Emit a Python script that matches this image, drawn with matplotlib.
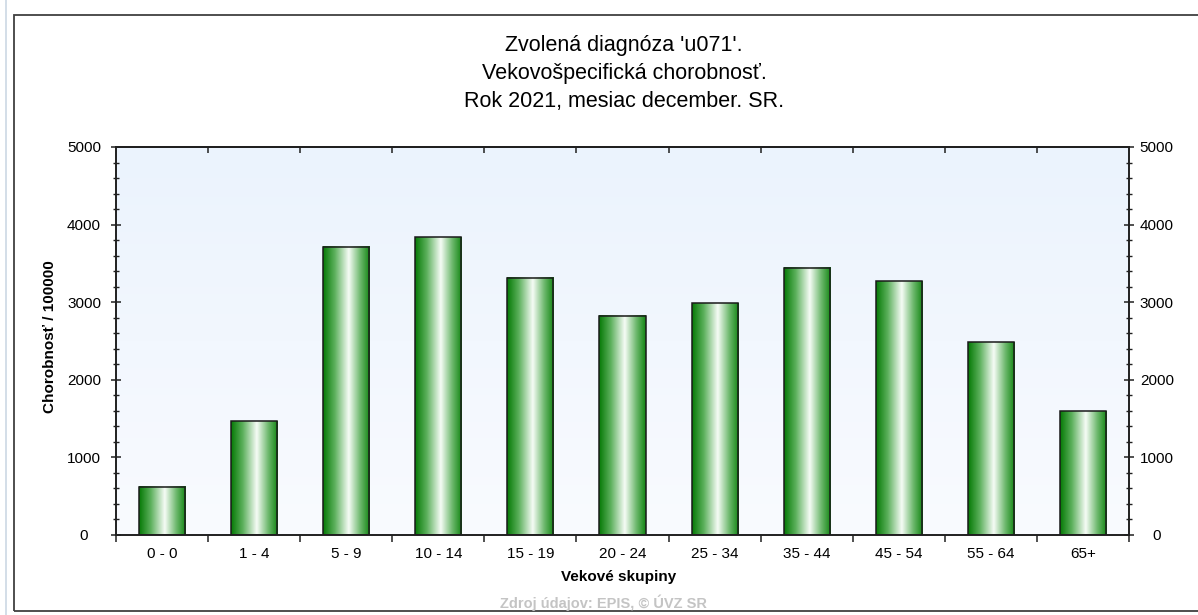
import numpy as np
import matplotlib.pyplot as plt
from matplotlib.colors import LinearSegmentedColormap
from matplotlib.patches import Rectangle
from matplotlib.lines import Line2D

plt.rcParams['font.family'] = ['Liberation Sans', 'DejaVu Sans']

# data
groups = ["0 - 0", "1 - 4", "5 - 9", "10 - 14", "15 - 19", "20 - 24",
          "25 - 34", "35 - 44", "45 - 54", "55 - 64", "65+"]
values = [620, 1465, 3715, 3834, 3312, 2828, 2986, 3445, 3268, 2485, 1594]

title_lines = ["Zvolená diagnóza 'u071'.",
               "Vekovošpecifická chorobnosť.",
               "Rok 2021, mesiac december. SR."]

W, H = 1198, 615
fig = plt.figure(figsize=(W / 100, H / 100), dpi=100)

# outer frame
fig.patches.append(Rectangle((14 / W, 1 - 611 / H), 1.0, (611 - 15) / H,
                             transform=fig.transFigure, fill=False,
                             ec='#404040', lw=1.3))
fig.lines.append(Line2D([6 / W, 6 / W], [0, 1], transform=fig.transFigure,
                        color='#ccd8e4', lw=1.2))

ax = fig.add_axes([116 / W, 1 - 535 / H, (1129 - 116) / W, (535 - 147) / H])

# background gradient of plot area
bg = np.linspace(0, 1, 100).reshape(-1, 1)
bg_cmap = LinearSegmentedColormap.from_list('bg', ['#f9fbff', '#ebf3fd'])
ax.imshow(bg, extent=[0, 1, 0, 1], transform=ax.transAxes, aspect='auto',
          cmap=bg_cmap, origin='lower', zorder=0)

# bars with horizontal green gradient
x = np.arange(len(groups))
bw = 0.5
bar_cmap = LinearSegmentedColormap.from_list(
    'bar', [(0.0, '#067a06'), (0.25, '#5cb05c'), (0.55, '#f6fcf6'),
            (0.8, '#6cb86c'), (1.0, '#148614')])
grad = np.linspace(0, 1, 200).reshape(1, -1)
bars = ax.bar(x, values, width=bw, color='none', edgecolor='#1a1a1a',
              lw=1.1, zorder=3)
for b in bars:
    x0 = b.get_x()
    ax.imshow(grad, extent=[x0, x0 + b.get_width(), 0, b.get_height()],
              aspect='auto', cmap=bar_cmap, zorder=2)

ax.set_xlim(-0.5, len(groups) - 0.5)
ax.set_ylim(0, 5000)

for s in ax.spines.values():
    s.set_color('#202020')
    s.set_linewidth(1.2)

# x axis: labels at centers, ticks at category boundaries
ax.set_xticks(x, groups)
ax.set_xticks(np.arange(-0.5, len(groups), 1), minor=True)
ax.tick_params(axis='x', which='major', length=0, pad=9, labelsize=11)
ax.tick_params(axis='x', which='minor', direction='out', length=5,
               width=1.1, color='#202020')
top = ax.secondary_xaxis('top')
top.set_xticks(np.arange(0.5, len(groups) - 1, 1))
top.tick_params(direction='in', length=4.5, width=1.1, color='#202020',
                labeltop=False)
top.spines['top'].set_linewidth(1.2)

# y axes (left and right)
yt = np.arange(0, 5001, 1000)
ymt = np.arange(0, 5001, 200)
ax.set_yticks(yt)
ax.set_yticks(ymt, minor=True)
ax.tick_params(axis='y', which='major', direction='inout', length=7,
               width=1.1, color='#202020', labelsize=11, pad=19.5)
ax.tick_params(axis='y', which='minor', direction='inout', length=5,
               width=1.0, color='#202020')
plt.setp(ax.get_yticklabels(), ha='center')

ax2 = ax.twinx()
ax2.set_ylim(0, 5000)
ax2.set_yticks(yt)
ax2.set_yticks(ymt, minor=True)
ax2.tick_params(axis='y', which='major', direction='inout', length=7,
                width=1.1, color='#202020', labelsize=11, pad=16.5)
ax2.tick_params(axis='y', which='minor', direction='inout', length=5,
                width=1.0, color='#202020')
plt.setp(ax2.get_yticklabels(), ha='center')
for s in ax2.spines.values():
    s.set_color('#202020')
    s.set_linewidth(1.2)

# texts
for i, line in enumerate(title_lines):
    fig.text(624 / W, 1 - (45 + 28 * i) / H, line, ha='center', va='center',
             fontsize=15.5)
fig.text(619 / W, 1 - 577 / H, "Vekové skupiny", ha='center', va='center',
         fontsize=11, fontweight='bold')
fig.text(50 / W, 1 - 337 / H, "Chorobnosť / 100000", ha='center',
         va='center', rotation=90, fontsize=11, fontweight='bold')
fig.text(603 / W, 1 - 603 / H, "Zdroj údajov: EPIS, © ÚVZ SR", ha='center',
         va='center', fontsize=10.5, fontweight='bold', color='#c4c4c4')

fig.savefig('out.png', dpi=100)
